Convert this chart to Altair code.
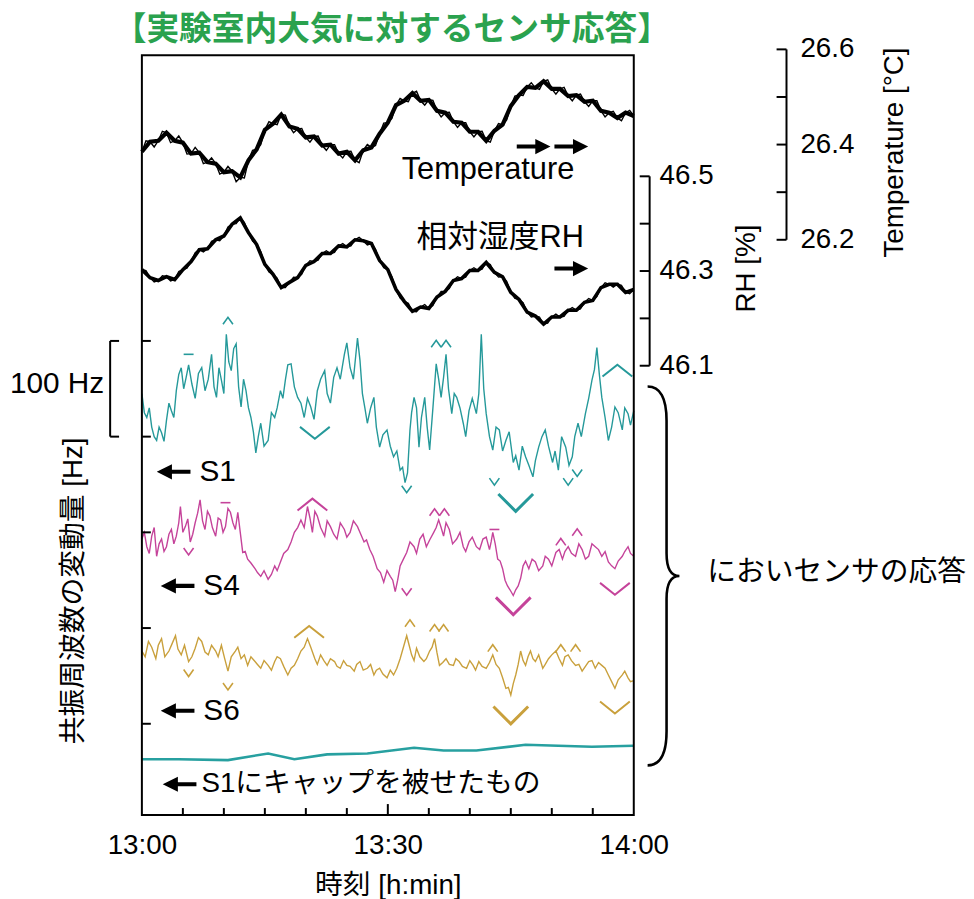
import altair as alt
import pandas as pd

# ---------------- data ----------------
minutes = list(range(61))
half_minutes = [m + 0.5 for m in range(60)]
temperature = [26.385, 26.406, 26.408, 26.425, 26.408, 26.404, 26.381, 26.383, 26.363, 26.360,
               26.342, 26.344, 26.331, 26.367, 26.390, 26.431, 26.444, 26.463, 26.438, 26.433,
               26.415, 26.417, 26.398, 26.400, 26.381, 26.385, 26.367, 26.388, 26.394, 26.423,
               26.446, 26.483, 26.492, 26.508, 26.492, 26.494, 26.471, 26.467, 26.448, 26.446,
               26.427, 26.427, 26.408, 26.429, 26.442, 26.481, 26.504, 26.521, 26.519, 26.533,
               26.517, 26.517, 26.502, 26.504, 26.490, 26.492, 26.471, 26.467, 26.456, 26.467, 26.460]
temperature_half = [26.408, 26.395, 26.428, 26.404, 26.418, 26.380, 26.394, 26.360, 26.372, 26.338,
                    26.354, 26.322, 26.330, 26.388, 26.400, 26.448, 26.442, 26.462, 26.425, 26.434,
                    26.405, 26.418, 26.388, 26.400, 26.372, 26.386, 26.362, 26.400, 26.398, 26.445,
                    26.455, 26.497, 26.490, 26.512, 26.483, 26.493, 26.458, 26.468, 26.436, 26.446,
                    26.416, 26.428, 26.405, 26.444, 26.452, 26.502, 26.503, 26.530, 26.516, 26.536,
                    26.506, 26.520, 26.492, 26.506, 26.480, 26.492, 26.458, 26.470, 26.450, 26.472]
rh = [46.303, 46.286, 46.280, 46.288, 46.282, 46.303, 46.320, 46.345, 46.347, 46.366,
      46.374, 46.399, 46.412, 46.381, 46.356, 46.314, 46.293, 46.265, 46.276, 46.286,
      46.312, 46.320, 46.337, 46.337, 46.353, 46.351, 46.366, 46.364, 46.358, 46.322,
      46.303, 46.261, 46.236, 46.215, 46.224, 46.221, 46.245, 46.257, 46.280, 46.284,
      46.301, 46.301, 46.318, 46.297, 46.288, 46.255, 46.240, 46.213, 46.205, 46.188,
      46.203, 46.203, 46.217, 46.217, 46.234, 46.238, 46.265, 46.272, 46.272, 46.255, 46.261]
rh_half = [46.301, 46.277, 46.290, 46.279, 46.299, 46.306, 46.339, 46.340, 46.363, 46.364,
           46.393, 46.400, 46.403, 46.363, 46.341, 46.298, 46.285, 46.265, 46.287, 46.293,
           46.322, 46.323, 46.343, 46.339, 46.358, 46.353, 46.371, 46.355, 46.346, 46.307,
           46.288, 46.243, 46.232, 46.214, 46.229, 46.227, 46.257, 46.263, 46.288, 46.287,
           46.307, 46.304, 46.314, 46.287, 46.278, 46.242, 46.233, 46.203, 46.203, 46.190,
           46.209, 46.204, 46.223, 46.220, 46.242, 46.246, 46.275, 46.266, 46.270, 46.252]

s1_t = [0.0, 0.6, 1.2, 1.8, 2.4, 3.0, 3.6, 4.2, 4.8, 5.4,
        6.1, 6.9, 7.7, 8.5, 9.1, 9.7, 10.3, 10.9, 11.5, 12.1,
        12.7, 13.3, 13.9, 14.5, 15.4, 16.2, 16.9, 17.5, 18.2, 19.0,
        19.8, 20.6, 21.4, 22.3, 23.0, 23.8, 24.7, 25.4, 26.3, 26.9,
        27.5, 28.3, 29.0, 29.9, 30.7, 31.5, 32.1, 32.7, 33.2, 33.8,
        34.5, 35.1, 35.9, 36.5, 37.1, 37.8, 38.4, 39.2, 39.9, 40.8,
        41.4, 42.0, 42.8, 43.6, 44.4, 45.3, 46.0, 46.8, 47.7, 48.4,
        49.2, 50.1, 50.8, 51.7, 52.5, 53.2, 54.1, 54.9, 55.5, 56.1,
        56.9, 57.7, 58.6, 59.3, 60.0]
s1_hz = [345, 320, 310, 296, 304, 317, 327, 348, 372, 362,
         355, 366, 348, 386, 341, 359, 407, 369, 397, 331,
         348, 320, 283, 314, 296, 320, 348, 359, 376, 341,
         320, 331, 348, 369, 335, 372, 386, 372, 403, 345,
         314, 341, 289, 307, 279, 265, 252, 307, 341, 289,
         341, 286, 376, 341, 386, 324, 341, 314, 327, 324,
         407, 324, 286, 307, 296, 273, 265, 279, 258, 289,
         307, 273, 265, 289, 279, 314, 324, 359, 393, 341,
         296, 331, 307, 324, 327]
s1_mid_t = [0.3, 0.9, 1.5, 2.1, 2.7, 3.3, 3.9, 4.5, 5.1, 5.7,
            6.5, 7.3, 8.1, 8.8, 9.4, 10.0, 10.6, 11.2, 11.8, 12.4,
            13.0, 13.6, 14.2, 14.9, 15.8, 16.5, 17.2, 17.8, 18.6, 19.4,
            20.2, 21.0, 21.8, 22.6, 23.4, 24.2, 25.0, 25.8, 26.6, 27.2,
            27.9, 28.6, 29.4, 30.3, 31.1, 31.8, 32.4, 32.9, 33.5, 34.1,
            34.8, 35.5, 36.2, 36.8, 37.4, 38.1, 38.8, 39.5, 40.3, 41.1,
            41.7, 42.4, 43.2, 44.0, 44.8, 45.6, 46.4, 47.2, 48.0, 48.8,
            49.6, 50.4, 51.2, 52.1, 52.8, 53.6, 54.5, 55.2, 55.8, 56.5,
            57.3, 58.1, 58.9, 59.6]
s1_mid_hz = [325, 330, 300, 310, 295, 335, 320, 365, 350, 375,
             340, 372, 360, 352, 372, 345, 378, 392, 352, 360,
             330, 305, 300, 290, 325, 330, 340, 375, 352, 335,
             340, 318, 360, 345, 362, 360, 398, 360, 380, 330,
             330, 310, 302, 290, 285, 268, 262, 325, 330, 320,
             310, 330, 360, 362, 350, 345, 330, 300, 340, 345,
             350, 300, 310, 285, 305, 280, 290, 270, 275, 300,
             290, 285, 300, 270, 300, 300, 340, 370, 365, 320,
             310, 325, 330, 312]

s4_t = [0.0, 0.6, 1.2, 1.8, 2.4, 3.0, 3.6, 4.2, 4.7, 5.3,
        5.9, 6.5, 7.1, 7.7, 8.3, 9.0, 9.6, 10.2, 10.8, 11.4,
        11.7, 12.3, 12.9, 13.8, 14.5, 15.4, 16.2, 16.9, 17.8, 18.6,
        19.4, 20.2, 20.8, 21.4, 22.3, 23.0, 23.8, 24.7, 25.4, 26.3,
        27.1, 27.8, 28.7, 29.5, 30.3, 30.9, 31.5, 32.3, 33.2, 33.9,
        34.7, 35.6, 36.2, 36.8, 37.5, 38.4, 39.2, 39.9, 40.8, 41.6,
        42.4, 42.8, 43.4, 44.0, 44.6, 45.3, 45.9, 46.5, 47.2, 48.0,
        48.9, 49.6, 50.5, 51.3, 52.0, 52.9, 53.7, 54.5, 55.3, 56.1,
        56.9, 57.7, 58.6, 59.3, 60.0]
s4_hz = [193, 185, 196, 175, 193, 185, 203, 196, 227, 206,
         190, 210, 234, 203, 217, 196, 213, 206, 221, 203,
         221, 179, 172, 162, 154, 151, 165, 169, 182, 200,
         213, 227, 200, 217, 196, 206, 193, 203, 200, 206,
         190, 182, 162, 148, 154, 138, 165, 179, 185, 193,
         185, 200, 213, 196, 203, 193, 185, 190, 185, 193,
         182, 200, 172, 162, 144, 134, 144, 165, 162, 169,
         165, 172, 179, 172, 185, 175, 182, 175, 185, 175,
         169, 162, 175, 185, 175]
s4_mid_t = [0.3, 0.9, 1.5, 2.1, 2.7, 3.3, 3.9, 4.5, 5.0, 5.6,
            6.2, 6.8, 7.4, 8.0, 8.6, 9.3, 9.9, 10.5, 11.1, 12.0,
            12.6, 13.3, 14.1, 14.9, 15.8, 16.5, 17.3, 18.2, 19.0, 19.8,
            20.5, 21.1, 21.8, 22.6, 23.4, 24.2, 25.0, 25.8, 26.7, 27.4,
            28.2, 29.1, 29.9, 30.6, 31.2, 31.9, 32.7, 33.5, 34.3, 35.1,
            35.9, 36.5, 37.1, 37.9, 38.8, 39.5, 40.3, 41.2, 42.0, 42.6,
            43.1, 43.7, 44.3, 44.9, 45.6, 46.2, 46.8, 47.6, 48.4, 49.2,
            50.0, 50.9, 51.6, 52.4, 53.3, 54.1, 54.9, 55.7, 56.5, 57.3,
            58.1, 58.9, 59.6]
s4_mid_hz = [200, 178, 205, 188, 180, 198, 188, 210, 200, 214,
             198, 220, 212, 222, 205, 215, 200, 225, 210, 200,
             180, 168, 158, 160, 156, 160, 178, 190, 205, 205,
             215, 222, 205, 212, 198, 210, 195, 212, 198, 192,
             175, 158, 160, 150, 150, 172, 190, 178, 198, 192,
             205, 205, 210, 188, 200, 180, 195, 182, 195, 190,
             188, 170, 150, 140, 140, 152, 170, 172, 160, 175,
             165, 182, 180, 178, 188, 172, 188, 182, 180, 165,
             170, 180, 178]

s6_t = [0.0, 0.8, 1.7, 2.4, 3.3, 4.1, 4.8, 5.7, 6.5, 7.3,
        8.1, 9.0, 9.7, 10.5, 11.4, 12.1, 12.9, 13.8, 14.5, 15.4,
        16.2, 16.9, 17.8, 18.6, 19.4, 20.2, 21.1, 21.8, 22.6, 23.5,
        24.2, 25.0, 25.9, 26.6, 27.5, 28.3, 29.0, 29.9, 30.7, 31.5,
        32.3, 32.9, 33.5, 34.4, 35.1, 35.7, 36.3, 37.1, 38.0, 38.7,
        39.6, 40.4, 41.1, 42.0, 42.8, 43.6, 44.4, 45.0, 45.6, 46.2,
        46.8, 47.4, 48.0, 48.9, 49.6, 50.5, 51.3, 52.0, 52.9, 53.7,
        54.5, 55.3, 56.1, 56.9, 57.7, 58.6, 59.3, 60.0]
s6_hz = [76, 86, 68, 89, 76, 92, 72, 65, 79, 86,
         72, 76, 82, 55, 76, 68, 61, 65, 58, 61,
         65, 68, 51, 61, 76, 89, 68, 72, 61, 65,
         58, 61, 55, 65, 58, 51, 58, 48, 51, 68,
         92, 72, 79, 65, 76, 89, 61, 68, 61, 65,
         58, 61, 65, 58, 72, 58, 37, 30, 51, 76,
         61, 76, 65, 58, 68, 76, 61, 72, 61, 55,
         65, 58, 61, 51, 37, 51, 48, 45]
s6_mid_t = [0.4, 1.2, 2.0, 2.8, 3.7, 4.4, 5.2, 6.1, 6.9, 7.7,
            8.5, 9.3, 10.1, 10.9, 11.7, 12.5, 13.3, 14.1, 14.9, 15.8,
            16.5, 17.3, 18.2, 19.0, 19.8, 20.6, 21.4, 22.2, 23.0, 23.8,
            24.6, 25.4, 26.2, 27.0, 27.9, 28.6, 29.4, 30.3, 31.1, 31.9,
            32.6, 33.2, 33.9, 34.7, 35.4, 36.0, 36.7, 37.5, 38.3, 39.1,
            40.0, 40.7, 41.5, 42.4, 43.2, 44.0, 44.7, 45.3, 45.9, 46.5,
            47.1, 47.7, 48.4, 49.2, 50.0, 50.9, 51.6, 52.4, 53.3, 54.1,
            54.9, 55.7, 56.5, 57.3, 58.1, 58.9, 59.6]
s6_mid_hz = [70, 80, 82, 70, 84, 78, 82, 70, 90, 75,
             82, 70, 68, 70, 80, 72, 70, 62, 66, 56,
             70, 60, 58, 68, 80, 80, 62, 66, 68, 60,
             66, 60, 62, 56, 62, 56, 52, 56, 58, 80,
             82, 66, 70, 68, 80, 74, 64, 62, 68, 60,
             66, 56, 60, 64, 62, 48, 38, 42, 62, 66,
             70, 68, 72, 62, 72, 68, 70, 66, 62, 60,
             66, 64, 58, 44, 46, 55, 44]

cap_t = [0.0, 4.5, 10.5, 15.4, 18.6, 22.6, 27.5, 33.2, 36.8, 40.8, 46.8, 50.8, 54.9, 60.0]
cap_hz = [-37, -37, -38, -31, -37, -32, -31, -25, -28, -28, -22, -23, -24, -23]

mk_sensor = ["S1"] * 11 + ["S4"] * 11 + ["S6"] * 11
mk_kind = ["dash", "peak", "wdip", "peak", "peak", "wpeak", "dip", "dip", "dip", "dip", "bdip",
           "dip", "dash", "wpeak", "peak", "peak", "dip", "dash", "bdip", "peak", "peak", "wdip",
           "dip", "dip", "wpeak", "peak", "peak", "peak", "peak", "bdip", "peak", "peak", "wdip"]
mk_t = [5.7, 10.5, 21.1, 35.9, 37.1, 58.0, 32.3, 43.0, 52.0, 53.1, 45.6,
        5.7, 10.2, 20.8, 35.7, 36.9, 32.3, 43.0, 45.3, 51.1, 53.1, 57.7,
        5.7, 10.5, 20.4, 32.7, 35.7, 36.8, 42.8, 45.0, 51.1, 52.9, 57.7]
mk_hz = [386, 421, 304, 397, 397, 369, 245, 253, 253, 262, 231,
         180, 231, 229, 221, 221, 138, 203, 123, 190, 200, 141,
         53, 39, 96, 105, 100, 100, 79, 9, 79, 79, 17]

temp_tick_vals = [26.2, 26.3, 26.4, 26.5, 26.6]
temp_label_vals = [26.2, 26.4, 26.6]
rh_tick_vals = [46.1, 46.2, 46.3, 46.4, 46.5]
rh_label_vals = [46.1, 46.3, 46.5]
hz_tick_vals = [0, 100, 200, 300, 400]
x_minor_ticks = [5, 10, 15, 20, 25, 35, 40, 45, 50, 55]
x_major_ticks = [30]
x_label_vals = [0, 30, 60]

sensor_names = ["S1", "S4", "S6"]
sensor_colors = ["#25999a", "#c5439a", "#c9a03c"]

# ---------------- styling ----------------
LAT = "Liberation Sans"
JP = "Liberation Sans, Noto Sans CJK JP"
W, H = 496, 766

xs = alt.Scale(domain=[0, 60], nice=False, zero=False)
temp_scale = alt.Scale(domain=[24.99167, 26.5875], nice=False, zero=False)
rh_scale = alt.Scale(domain=[45.1513, 46.7555], nice=False, zero=False)
hz_scale = alt.Scale(domain=[-95.3, 698.4], nice=False, zero=False)

x_axis = alt.Axis(values=x_label_vals,
                  labelExpr="datum.value == 0 ? '13:00' : (datum.value == 30 ? '13:30' : '14:00')",
                  ticks=False, domain=False, grid=False, labelFlush=False, labelOverlap=False,
                  labelFontSize=28, labelFont=LAT, labelColor="black", labelPadding=17,
                  title="時刻 [h:min]", titleFont=JP, titleFontSize=28, titleFontWeight="normal",
                  titleColor="black", titlePadding=12)


def X(field="t"):
    return alt.X(f"{field}:Q", scale=xs, axis=x_axis)


one = pd.DataFrame({"k": [0]})


def txt(s, x, y, size=28, angle=0, align="left", color="black", weight="normal", font=JP):
    return alt.Chart(one).mark_text(text=s, align=align, baseline="middle", fontSize=size,
                                    angle=angle, color=color, fontWeight=weight, font=font
                                    ).encode(x=alt.value(x), y=alt.value(y))


LEFT_ARROW = "M -1 0 L -0.1 -0.45 L -0.1 -0.12 L 1 -0.12 L 1 0.12 L -0.1 0.12 L -0.1 0.45 Z"
RIGHT_ARROW = "M 1 0 L 0.1 -0.45 L 0.1 -0.12 L -1 -0.12 L -1 0.12 L 0.1 0.12 L 0.1 0.45 Z"
BRACE = ("M -0.084 -1 Q 0.016 -1 0.016 -0.82 L 0.016 -0.12 Q 0.016 0 0.084 0 "
         "Q 0.016 0 0.016 0.12 L 0.016 0.82 Q 0.016 1 -0.084 1")


def arrow(path, x, y, length=34):
    return alt.Chart(one).mark_point(shape=path, filled=True, color="black", opacity=1,
                                     strokeWidth=0, size=length * length
                                     ).encode(x=alt.value(x), y=alt.value(y))


layers = []

# main series: temperature and RH (a thick trace plus its fine-grained noise)
df_temp = pd.DataFrame({"t": minutes, "v": temperature})
df_temp_all = pd.DataFrame({"t": minutes + half_minutes, "v": temperature + temperature_half}).sort_values("t")
df_rh = pd.DataFrame({"t": minutes, "v": rh})
df_rh_all = pd.DataFrame({"t": minutes + half_minutes, "v": rh + rh_half}).sort_values("t")
layers.append(alt.Chart(df_temp).mark_line(color="black", strokeWidth=4.2).encode(
    x=X(), y=alt.Y("v:Q", scale=temp_scale, axis=None)))
layers.append(alt.Chart(df_temp_all).mark_line(color="black", strokeWidth=1.4).encode(
    x=X(), y=alt.Y("v:Q", scale=temp_scale, axis=None)))
layers.append(alt.Chart(df_rh).mark_line(color="black", strokeWidth=3.6).encode(
    x=X(), y=alt.Y("v:Q", scale=rh_scale, axis=None)))
layers.append(alt.Chart(df_rh_all).mark_line(color="black", strokeWidth=1.3).encode(
    x=X(), y=alt.Y("v:Q", scale=rh_scale, axis=None)))

series = [(s1_t + s1_mid_t, s1_hz + s1_mid_hz, sensor_colors[0], 1.4),
          (s4_t + s4_mid_t, s4_hz + s4_mid_hz, sensor_colors[1], 1.4),
          (s6_t + s6_mid_t, s6_hz + s6_mid_hz, sensor_colors[2], 1.4),
          (cap_t, cap_hz, "#27a0a0", 2.6)]
for tt, vv, col, sw in series:
    d = pd.DataFrame({"t": tt, "v": vv}).sort_values("t")
    layers.append(alt.Chart(d).mark_line(color=col, strokeWidth=sw).encode(
        x=X(), y=alt.Y("v:Q", scale=hz_scale, axis=None)))

# peak / dip markers
df_mk = pd.DataFrame({"t": mk_t, "v": mk_hz, "sensor": mk_sensor, "kind": mk_kind})
shape_scale = alt.Scale(domain=["peak", "dip", "dash", "wpeak", "wdip", "bdip"],
                        range=["M -1 0.7 L 0 -0.7 L 1 0.7", "M -1 -0.7 L 0 0.7 L 1 -0.7", "M -1 0 L 1 0",
                               "M -1 0.4 L 0 -0.4 L 1 0.4", "M -1 -0.4 L 0 0.4 L 1 -0.4",
                               "M -1 -0.5 L 0 0.5 L 1 -0.5"])
color_scale = alt.Scale(domain=sensor_names, range=sensor_colors)
for kinds, size, sw in [(["peak", "dip", "dash"], 100, 1.6), (["wpeak", "wdip"], 900, 2.0), (["bdip"], 1225, 3.0)]:
    layers.append(alt.Chart(df_mk).transform_filter(
        alt.FieldOneOfPredicate(field="kind", oneOf=kinds)).mark_point(
        filled=False, opacity=1, size=size, strokeWidth=sw).encode(
        x=X(), y=alt.Y("v:Q", scale=hz_scale, axis=None),
        color=alt.Color("sensor:N", scale=color_scale, legend=None),
        shape=alt.Shape("kind:N", scale=shape_scale, legend=None)))

# plot frame
layers.append(alt.Chart(one).mark_rect(fillOpacity=0, stroke="black", strokeWidth=2).encode(
    x=alt.value(0), x2=alt.value(W), y=alt.value(0), y2=alt.value(H)))

# inner ticks: left (Hz) and bottom (time)
layers.append(alt.Chart(pd.DataFrame({"v": hz_tick_vals})).mark_rule(color="black", strokeWidth=2).encode(
    y=alt.Y("v:Q", scale=hz_scale, axis=None), x=alt.value(0), x2=alt.value(9)))
layers.append(alt.Chart(pd.DataFrame({"v": x_minor_ticks})).mark_rule(color="black", strokeWidth=2).encode(
    x=X("v"), y=alt.value(H), y2=alt.value(H - 7)))
layers.append(alt.Chart(pd.DataFrame({"v": x_major_ticks})).mark_rule(color="black", strokeWidth=2).encode(
    x=X("v"), y=alt.value(H), y2=alt.value(H - 11)))

# 100 Hz bracket
layers.append(alt.Chart(pd.DataFrame({"lo": [300], "hi": [400]})).mark_rule(color="black", strokeWidth=2).encode(
    y=alt.Y("lo:Q", scale=hz_scale, axis=None), y2="hi:Q", x=alt.value(-32)))
layers.append(alt.Chart(pd.DataFrame({"v": [300, 400]})).mark_rule(color="black", strokeWidth=2).encode(
    y=alt.Y("v:Q", scale=hz_scale, axis=None), x=alt.value(-32), x2=alt.value(-23)))

# RH bracket axis
layers.append(alt.Chart(pd.DataFrame({"lo": [rh_tick_vals[0]], "hi": [rh_tick_vals[-1]]})).mark_rule(
    color="black", strokeWidth=2).encode(y=alt.Y("lo:Q", scale=rh_scale, axis=None), y2="hi:Q", x=alt.value(512)))
layers.append(alt.Chart(pd.DataFrame({"v": rh_tick_vals})).mark_rule(color="black", strokeWidth=2).encode(
    y=alt.Y("v:Q", scale=rh_scale, axis=None), x=alt.value(502), x2=alt.value(512)))
layers.append(alt.Chart(pd.DataFrame({"v": rh_label_vals})).mark_text(
    align="left", baseline="middle", fontSize=28, font=LAT, color="black").encode(
    y=alt.Y("v:Q", scale=rh_scale, axis=None), x=alt.value(522), text=alt.Text("v:Q", format=".1f")))

# Temperature bracket axis
layers.append(alt.Chart(pd.DataFrame({"lo": [temp_tick_vals[0]], "hi": [temp_tick_vals[-1]]})).mark_rule(
    color="black", strokeWidth=2).encode(y=alt.Y("lo:Q", scale=temp_scale, axis=None), y2="hi:Q", x=alt.value(650)))
layers.append(alt.Chart(pd.DataFrame({"v": temp_tick_vals})).mark_rule(color="black", strokeWidth=2).encode(
    y=alt.Y("v:Q", scale=temp_scale, axis=None), x=alt.value(640), x2=alt.value(650)))
layers.append(alt.Chart(pd.DataFrame({"v": temp_label_vals})).mark_text(
    align="left", baseline="middle", fontSize=28, font=LAT, color="black").encode(
    y=alt.Y("v:Q", scale=temp_scale, axis=None), x=alt.value(664), text=alt.Text("v:Q", format=".1f")))

# texts
layers += [
    txt("【実験室内大気に対するセンサ応答】", 252, -25, size=33, align="center", color="#2aa24e", weight="bold"),
    txt("Temperature", 262, 116, size=31, font=LAT),
    txt("相対湿度RH", 277, 184, size=31),
    txt("S1", 58, 420, size=30, font=LAT),
    txt("S4", 62, 535, size=30, font=LAT),
    txt("S6", 62, 661, size=30, font=LAT),
    txt("S1にキャップを被せたもの", 60, 735, size=28),
    txt("100 Hz", -38, 331, size=30, align="right", font=LAT),
    txt("共振周波数の変動量 [Hz]", -68, 540, size=28, angle=270, align="center"),
    txt("RH [%]", 610, 215, size=28, angle=270, align="center", font=LAT),
    txt("Temperature [°C]", 759, 98, size=28, angle=270, align="center", font=LAT),
    txt("においセンサの応答", 570, 521, size=29),
    arrow(RIGHT_ARROW, 395, 92), arrow(RIGHT_ARROW, 433, 92),
    arrow(RIGHT_ARROW, 433, 215),
    arrow(LEFT_ARROW, 32, 420), arrow(LEFT_ARROW, 36, 535), arrow(LEFT_ARROW, 36, 661), arrow(LEFT_ARROW, 38, 735),
    alt.Chart(one).mark_point(shape=BRACE, filled=False, color="black", opacity=1, strokeWidth=2.6,
                              size=382 * 382).encode(x=alt.value(526), y=alt.value(525)),
]

chart = alt.layer(*layers).resolve_scale(y="independent", color="independent", shape="independent").properties(
    width=W, height=H,
    padding={"left": 135, "top": 44, "right": 335, "bottom": 81},
    autosize=alt.AutoSizeParams(type="none"),
).configure_view(strokeWidth=0)

chart.save("out.html", embed_options={"renderer": "svg", "actions": False})
